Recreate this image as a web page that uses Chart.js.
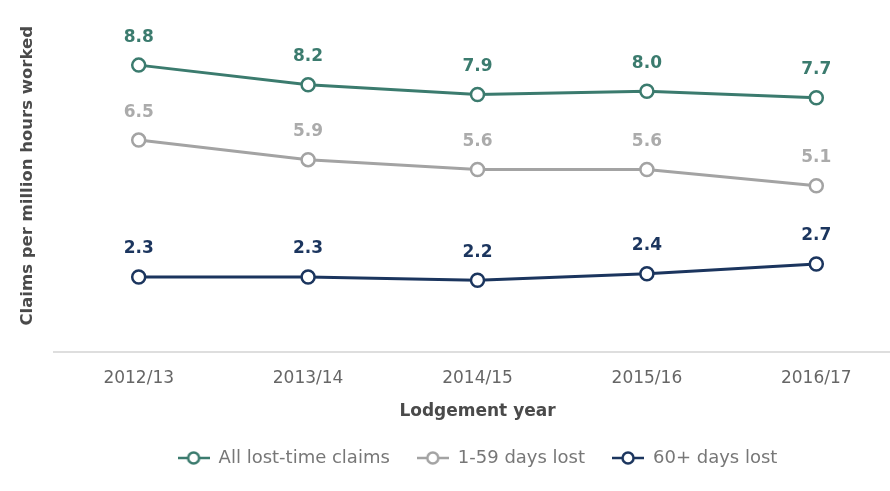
<!DOCTYPE html>
<html>
<head>
<meta charset="utf-8">
<script src="https://cdn.jsdelivr.net/npm/chart.js@4"></script>
<style>
html,body{margin:0;padding:0;background:#fff;overflow:hidden;}
#wrap{position:relative;width:910px;height:491px;}
</style>
</head>
<body>
<div id="wrap"><canvas id="c"></canvas></div>
<script>
// ---- data ----
const categories = ['2012/13', '2013/14', '2014/15', '2015/16', '2016/17'];
const seriesNames = ['All lost-time claims', '1-59 days lost', '60+ days lost'];
const allLostTime = [8.8, 8.2, 7.9, 8.0, 7.8];
const allLostTimeLabels = ['8.8', '8.2', '7.9', '8.0', '7.7'];
const days1to59 = [6.5, 5.9, 5.6, 5.6, 5.1];
const days1to59Labels = ['6.5', '5.9', '5.6', '5.6', '5.1'];
const days60plus = [2.3, 2.3, 2.2, 2.4, 2.7];
const days60plusLabels = ['2.3', '2.3', '2.2', '2.4', '2.7'];

const colors = ['#3b7b6e', '#a3a3a3', '#1b355e'];
const labelColors = ['#3b7b6e', '#ababab', '#1b355e'];
const FONT = '"DejaVu Sans", sans-serif';

function legendIcon(color) {
  const cv = document.createElement('canvas');
  cv.width = 32; cv.height = 16;
  const g = cv.getContext('2d');
  g.strokeStyle = color; g.lineWidth = 2.5;
  g.beginPath(); g.moveTo(0, 8); g.lineTo(32, 8); g.stroke();
  g.beginPath(); g.arc(16, 8, 5.5, 0, Math.PI * 2);
  g.fillStyle = '#fff'; g.fill(); g.stroke();
  return cv;
}

const labelPlugin = {
  id: 'valueLabels',
  afterDatasetsDraw(chart) {
    const ctx = chart.ctx;
    const labelSets = [allLostTimeLabels, days1to59Labels, days60plusLabels];
    ctx.save();
    ctx.font = 'bold 17px ' + FONT;
    ctx.textAlign = 'center';
    ctx.textBaseline = 'middle';
    chart.data.datasets.forEach((ds, i) => {
      const meta = chart.getDatasetMeta(i);
      ctx.fillStyle = labelColors[i];
      meta.data.forEach((pt, j) => {
        ctx.fillText(labelSets[i][j], pt.x, pt.y - 28);
      });
    });
    ctx.restore();
  }
};

const datasets = [allLostTime, days1to59, days60plus].map((d, i) => ({
  label: seriesNames[i],
  data: d,
  borderColor: colors[i],
  backgroundColor: '#fff',
  borderWidth: 3,
  pointRadius: 6.5,
  pointBorderWidth: 2.5,
  pointBackgroundColor: '#fff',
  pointBorderColor: colors[i],
  tension: 0
}));

new Chart(document.getElementById('c'), {
  type: 'line',
  data: { labels: categories, datasets },
  plugins: [labelPlugin],
  options: {
    responsive: true,
    maintainAspectRatio: false,
    animation: false,
    layout: { padding: { top: 26, left: 0, right: 0, bottom: 14 } },
    scales: {
      x: {
        offset: true,
        afterFit(scale) { scale.height = 70; },
        grid: { display: false, drawTicks: false },
        border: { display: true, color: '#dedede', width: 2 },
        ticks: { color: '#666', font: { family: FONT, size: 17 }, padding: 16 },
        title: { display: true, text: 'Lodgement year', color: '#4a4a4a',
                 font: { family: FONT, size: 17, weight: 'bold' }, padding: { top: 0, bottom: 0 } }
      },
      y: {
        min: 0, max: 10,
        afterFit(scale) { scale.width = 54; },
        grid: { display: false, drawTicks: false },
        border: { display: false },
        ticks: { display: false },
        title: { display: true, text: 'Claims per million hours worked', color: '#4a4a4a', align: 'end',
                 font: { family: FONT, size: 16.5, weight: 'bold' }, padding: { top: 18, bottom: 0 } }
      }
    },
    plugins: {
      tooltip: { enabled: false },
      legend: {
        position: 'bottom',
        align: 'center',
        fullSize: false,
        labels: {
          usePointStyle: true,
          pointStyleWidth: 32,
          padding: 27,
          color: '#777',
          font: { family: FONT, size: 18 },
          generateLabels(chart) {
            return chart.data.datasets.map((ds, i) => ({
              text: ds.label,
              pointStyle: legendIcon(colors[i]),
              fillStyle: '#fff',
              strokeStyle: colors[i],
              lineWidth: 0,
              fontColor: '#777',
              datasetIndex: i
            }));
          }
        }
      }
    }
  }
});
</script>
</body>
</html>
